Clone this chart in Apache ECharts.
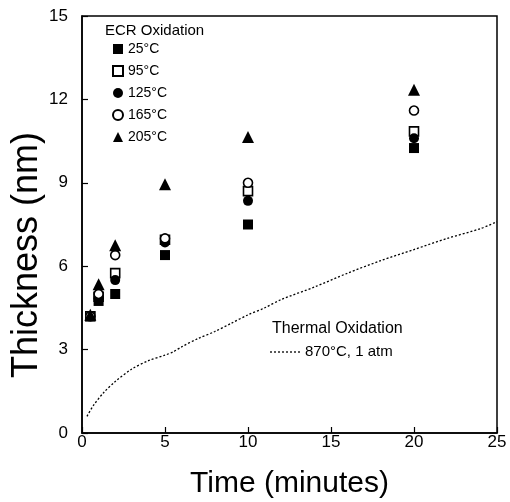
<!DOCTYPE html>
<html><head><meta charset="utf-8">
<script src="https://cdn.jsdelivr.net/npm/echarts@6/dist/echarts.min.js"></script>
<style>html,body{margin:0;padding:0;background:#fff}#c{width:510px;height:502px}</style>
</head><body><div id="c"></div>
<script>
var times = [0.5, 1, 2, 5, 10, 20];
var s25  = [4.2, 4.75, 5.0, 6.4, 7.5, 10.25];
var s95  = [4.2, 4.9, 5.75, 6.95, 8.7, 10.85];
var s125 = [4.2, 4.85, 5.5, 6.85, 8.35, 10.6];
var s165 = [4.2, 5.0, 6.4, 7.0, 9.0, 11.6];
var s205 = [4.25, 5.35, 6.75, 8.95, 10.65, 12.35];
var thermalT = [0.3, 0.7, 1.3, 2, 3, 4, 5, 5.5, 6, 7, 8, 9, 10, 11, 12, 14, 16, 18, 20, 22, 24, 25];
var thermalY = [0.6, 1.0, 1.45, 1.85, 2.3, 2.6, 2.8, 2.92, 3.1, 3.4, 3.65, 3.95, 4.25, 4.5, 4.8, 5.25, 5.75, 6.2, 6.6, 7.0, 7.35, 7.6];
var xTicks = [0, 5, 10, 15, 20, 25];
var yTicks = [0, 3, 6, 9, 12, 15];
var ecrNames = ['25\u00B0C', '95\u00B0C', '125\u00B0C', '165\u00B0C', '205\u00B0C'];
var thermalName = '870\u00B0C, 1 atm';
var yTitle = 'Thickness (nm)';
var xTitle = 'Time (minutes)';

function pairs(xs, ys){ return xs.map(function(x,i){ return [x, ys[i]]; }); }

var FONT = 'Liberation Sans, Arial, sans-serif';
var chart = echarts.init(document.getElementById('c'), null, {renderer:'canvas'});
function sc(name, data, symbol, filled, size){
  return {
    name: name, type: 'scatter', data: data, symbol: symbol, symbolSize: size,
    itemStyle: { color: filled ? '#000' : '#fff', borderColor: '#000', borderWidth: filled ? 0 : 1.6, opacity: 1 },
    emphasis: { disabled: true }
  };
}
chart.setOption({
  animation: false,
  backgroundColor: '#fff',
  grid: { left: 82, top: 16, width: 415, height: 417, show: true, borderColor: '#000', borderWidth: 1.5,
    backgroundColor: 'transparent', containLabel: false, outerBoundsMode: 'none' },
  xAxis: {
    type: 'value', min: 0, max: 25, interval: 5,
    axisLine: { lineStyle: { color: '#000', width: 1.5 } },
    axisTick: { inside: true, length: 6, lineStyle: { color: '#000', width: 1.2 } },
    splitLine: { show: false },
    axisLabel: { color: '#000', fontFamily: FONT, fontSize: 17, margin: 1,
      formatter: function(v){ return xTicks.indexOf(v) >= 0 ? String(v) : ''; } },
    name: xTitle, nameLocation: 'middle', nameGap: 36, nameMoveOverlap: false,
    nameTextStyle: { color: '#000', fontFamily: FONT, fontSize: 30 }
  },
  yAxis: {
    type: 'value', min: 0, max: 15, interval: 3,
    axisLine: { lineStyle: { color: '#000', width: 1.5 } },
    axisTick: { inside: true, length: 6, lineStyle: { color: '#000', width: 1.2 } },
    splitLine: { show: false },
    axisLabel: { color: '#000', fontFamily: FONT, fontSize: 17, margin: 14,
      formatter: function(v){ return yTicks.indexOf(v) >= 0 ? String(v) : ''; } }
  },
  legend: [{
    data: ecrNames, orient: 'vertical', left: 107, top: 37,
    itemWidth: 10, itemHeight: 10, itemGap: 8,
    textStyle: { color: '#000', fontFamily: FONT, fontSize: 14, lineHeight: 14 },
    selectedMode: false
  }],
  graphic: [
    { type: 'text', x: 27, y: 255, rotation: Math.PI / 2,
      style: { text: yTitle, fill: '#000', font: '36px ' + FONT, align: 'center', verticalAlign: 'middle' } },
    { type: 'text', left: 105, top: 23, style: { text: 'ECR Oxidation', fill: '#000', font: '15px ' + FONT } },
    { type: 'text', left: 272, top: 321, style: { text: 'Thermal Oxidation', fill: '#000', font: '16px ' + FONT } },
    { type: 'line', shape: { x1: 270, y1: 352, x2: 300, y2: 352 }, style: { stroke: '#000', lineWidth: 1.3, lineDash: [2, 2] } },
    { type: 'text', left: 305, top: 344, style: { text: thermalName, fill: '#000', font: '15px ' + FONT } }
  ],
  series: [
    {
      name: thermalName, type: 'line', data: pairs(thermalT, thermalY), symbol: 'none', smooth: 0.3,
      lineStyle: { color: '#000', width: 1.3, type: [2, 2] }, itemStyle: { color: '#000' },
      emphasis: { disabled: true }, z: 1
    },
    sc(ecrNames[0], pairs(times, s25), 'rect', true, 10),
    sc(ecrNames[1], pairs(times, s95), 'rect', false, 9),
    sc(ecrNames[2], pairs(times, s125), 'circle', true, 10),
    sc(ecrNames[3], pairs(times, s165), 'circle', false, 9),
    sc(ecrNames[4], pairs(times, s205), 'triangle', true, 12)
  ]
});
</script></body></html>
